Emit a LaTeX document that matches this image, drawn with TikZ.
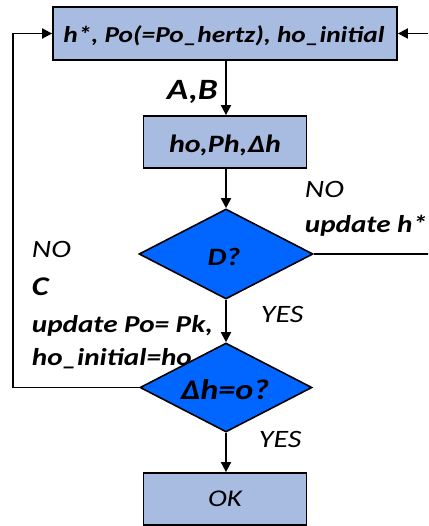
\documentclass[tikz,border=0pt]{standalone}
\usepackage{fontspec}
\setmainfont{Carlito}[FakeStretch=1.2]
\usetikzlibrary{shapes.geometric,arrows.meta}
\definecolor{boxfill}{RGB}{168,188,225}
\definecolor{dfill}{RGB}{0,102,255}
\tikzset{
  every picture/.style={line width=1.8pt},
  boxnode/.style={draw=black, fill=boxfill, line width=1.8pt, inner sep=0pt},
  decnode/.style={draw=black, fill=dfill, shape=diamond, inner sep=0pt, line width=1.6pt},
  flow/.style={-{Triangle[length=10pt,width=10pt]}, line width=1.8pt},
  lbl/.style={anchor=base west, inner sep=0pt, font=\fontsize{25}{25}\selectfont\itshape},
  blbl/.style={anchor=base west, inner sep=0pt, font=\fontsize{24.3}{24.3}\selectfont\bfseries\itshape},
}
\begin{document}
\begin{tikzpicture}[x=1pt,y=-1pt]
\useasboundingbox (0,0) rectangle (428,526);
\clip (0,0) rectangle (428,526);
% boxes
\node[boxnode, minimum width=344pt, minimum height=53pt] (top) at (225,33.5) {};
\node[anchor=base, inner sep=0pt, font=\fontsize{22.8}{22.8}\selectfont\bfseries\itshape] (toptext) at (224,43) {h*, Po(=Po\_hertz), ho\_initial};
\node[boxnode, minimum width=163pt, minimum height=52pt] (calc) at (225,142) {};
\node[anchor=base, inner sep=0pt, font=\fontsize{25}{25}\selectfont\bfseries\itshape] (calctext) at (225,153) {ho,Ph,Δh};
\node[boxnode, minimum width=163pt, minimum height=52pt] (ok) at (225,499) {};
\node[anchor=base, inner sep=0pt, font=\fontsize{24}{24}\selectfont\itshape] (oktext) at (225,506) {OK};
% labels
\node[anchor=base west, inner sep=0pt, font=\fontsize{29.5}{29.5}\selectfont\bfseries\itshape] (ab) at (166,100) {A,B};
\node[lbl] (no1) at (304,198) {NO};
\node[blbl] (uh) at (304,233) {update h*};
\node[lbl] (no2) at (31,257) {NO};
\node[anchor=base west, inner sep=0pt, font=\fontsize{27}{27}\selectfont\bfseries\itshape] (c) at (31,295) {C};
\node[blbl] (up) at (31,332) {update Po= Pk,};
\node[blbl] (hi) at (31,365) {ho\_initial=ho};
\node[lbl] (yes1) at (260,322) {YES};
\node[lbl] (yes2) at (258,447) {YES};
% diamonds
\node[decnode, minimum width=174pt, minimum height=90pt] (d1) at (226,254) {};
\node[anchor=base, inner sep=0pt, font=\fontsize{25}{25}\selectfont\bfseries\itshape] (d1text) at (224,265) {D?};
\node[decnode, minimum width=172pt, minimum height=89pt] (d2) at (226,387.5) {};
\node[anchor=base, inner sep=0pt, font=\fontsize{28.5}{28.5}\selectfont\bfseries\itshape] (d2text) at (225,399) {Δh=o?};
% connectors
\coordinate (rc) at (445,254);
\coordinate (lc) at (13,387.5);
\draw[flow] (top.south -| 226,0) -- (calc.north -| 226,0);
\draw[flow] (calc.south -| 226,0) -- (d1.north);
\draw[flow] (d1.south) -- (d2.north);
\draw[flow] (d2.south) -- (ok.north -| 226,0);
\draw[flow] (d1.east) -- (rc) |- (top.east);
\draw[flow] (d2.west) -- (lc) |- (top.west);
\end{tikzpicture}
\end{document}
